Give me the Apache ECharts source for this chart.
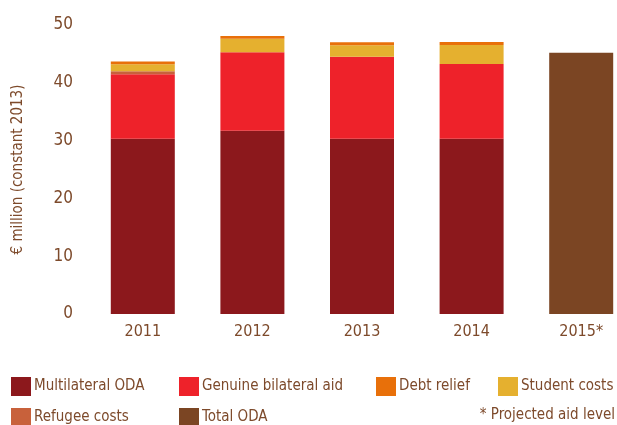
<!DOCTYPE html>
<html>
<head>
<meta charset="utf-8">
<script src="https://cdn.jsdelivr.net/npm/echarts@6/dist/echarts.min.js"></script>
<style>
  html, body { margin: 0; padding: 0; background: #fff; }
  #chart { width: 617px; height: 425px; }
</style>
</head>
<body>
<div id="chart"></div>
<script>
// data (€ million, constant 2013)
const years = ['2011', '2012', '2013', '2014', '2015*'];
const multilateral = [30.3, 31.7, 30.3, 30.3, null];
const bilateral = [11.2, 13.6, 14.2, 12.95, null];
const refugee = [0.5, 0, 0, 0, null];
const student = [1.2, 2.3, 2.0, 3.3, null];
const debtRelief = [0.5, 0.5, 0.5, 0.5, null];
const totalOda = [null, null, null, null, 45.2];
const yTicks = { min: 0, max: 50, interval: 10 };

const txt = '#7d4a2b';
const font = '"DejaVu Sans Condensed", "Liberation Sans", sans-serif';

const colors = {
  'Multilateral ODA': '#8c181c',
  'Genuine bilateral aid': '#ee222a',
  'Debt relief': '#e8700a',
  'Student costs': '#e5b02f',
  'Refugee costs': '#c8613b',
  'Total ODA': '#7b4523'
};

const mkBar = (name, data) => ({
  name: name,
  type: 'bar',
  stack: 'oda',
  barWidth: 64,
  data: data,
  itemStyle: { color: colors[name] },
  emphasis: { disabled: true }
});

// one legend per item so they sit where the original puts them
const legendAt = (name, left, top) => ({
  data: [name],
  left: left,
  top: top,
  itemWidth: 20,
  itemHeight: 19,
  itemGap: 0,
  padding: 0,
  icon: 'rect',
  selectedMode: false,
  textStyle: { color: txt, fontSize: 15, fontFamily: font, padding: [0, 0, 0, -2] }
});

const chart = echarts.init(document.getElementById('chart'));
chart.setOption({
  animation: false,
  textStyle: { fontFamily: font },
  grid: { left: 88, top: 25, width: 548, height: 289, outerBoundsMode: 'none' },
  legend: [
    legendAt('Multilateral ODA', 11, 377),
    legendAt('Genuine bilateral aid', 179, 377),
    legendAt('Debt relief', 376, 377),
    legendAt('Student costs', 498, 377),
    legendAt('Refugee costs', 11, 408),
    legendAt('Total ODA', 179, 408)
  ],
  graphic: [{
    type: 'text',
    right: 2,
    top: 408,
    style: { text: '* Projected aid level', fill: txt, font: '15px ' + font }
  }],
  xAxis: {
    type: 'category',
    data: years,
    axisLine: { show: false },
    axisTick: { show: false },
    axisLabel: { color: txt, fontSize: 16, margin: 10 }
  },
  yAxis: {
    type: 'value',
    min: yTicks.min,
    max: yTicks.max,
    interval: yTicks.interval,
    name: '€ million (constant 2013)',
    nameLocation: 'middle',
    nameGap: 62,
    nameTextStyle: { color: txt, fontSize: 15 },
    splitLine: { show: false },
    axisLine: { show: false },
    axisTick: { show: false },
    axisLabel: { color: txt, fontSize: 17, margin: 15, padding: [4, 0, 0, 0] }
  },
  series: [
    mkBar('Multilateral ODA', multilateral),
    mkBar('Genuine bilateral aid', bilateral),
    mkBar('Refugee costs', refugee),
    mkBar('Student costs', student),
    mkBar('Debt relief', debtRelief),
    mkBar('Total ODA', totalOda)
  ]
});
</script>
</body>
</html>
